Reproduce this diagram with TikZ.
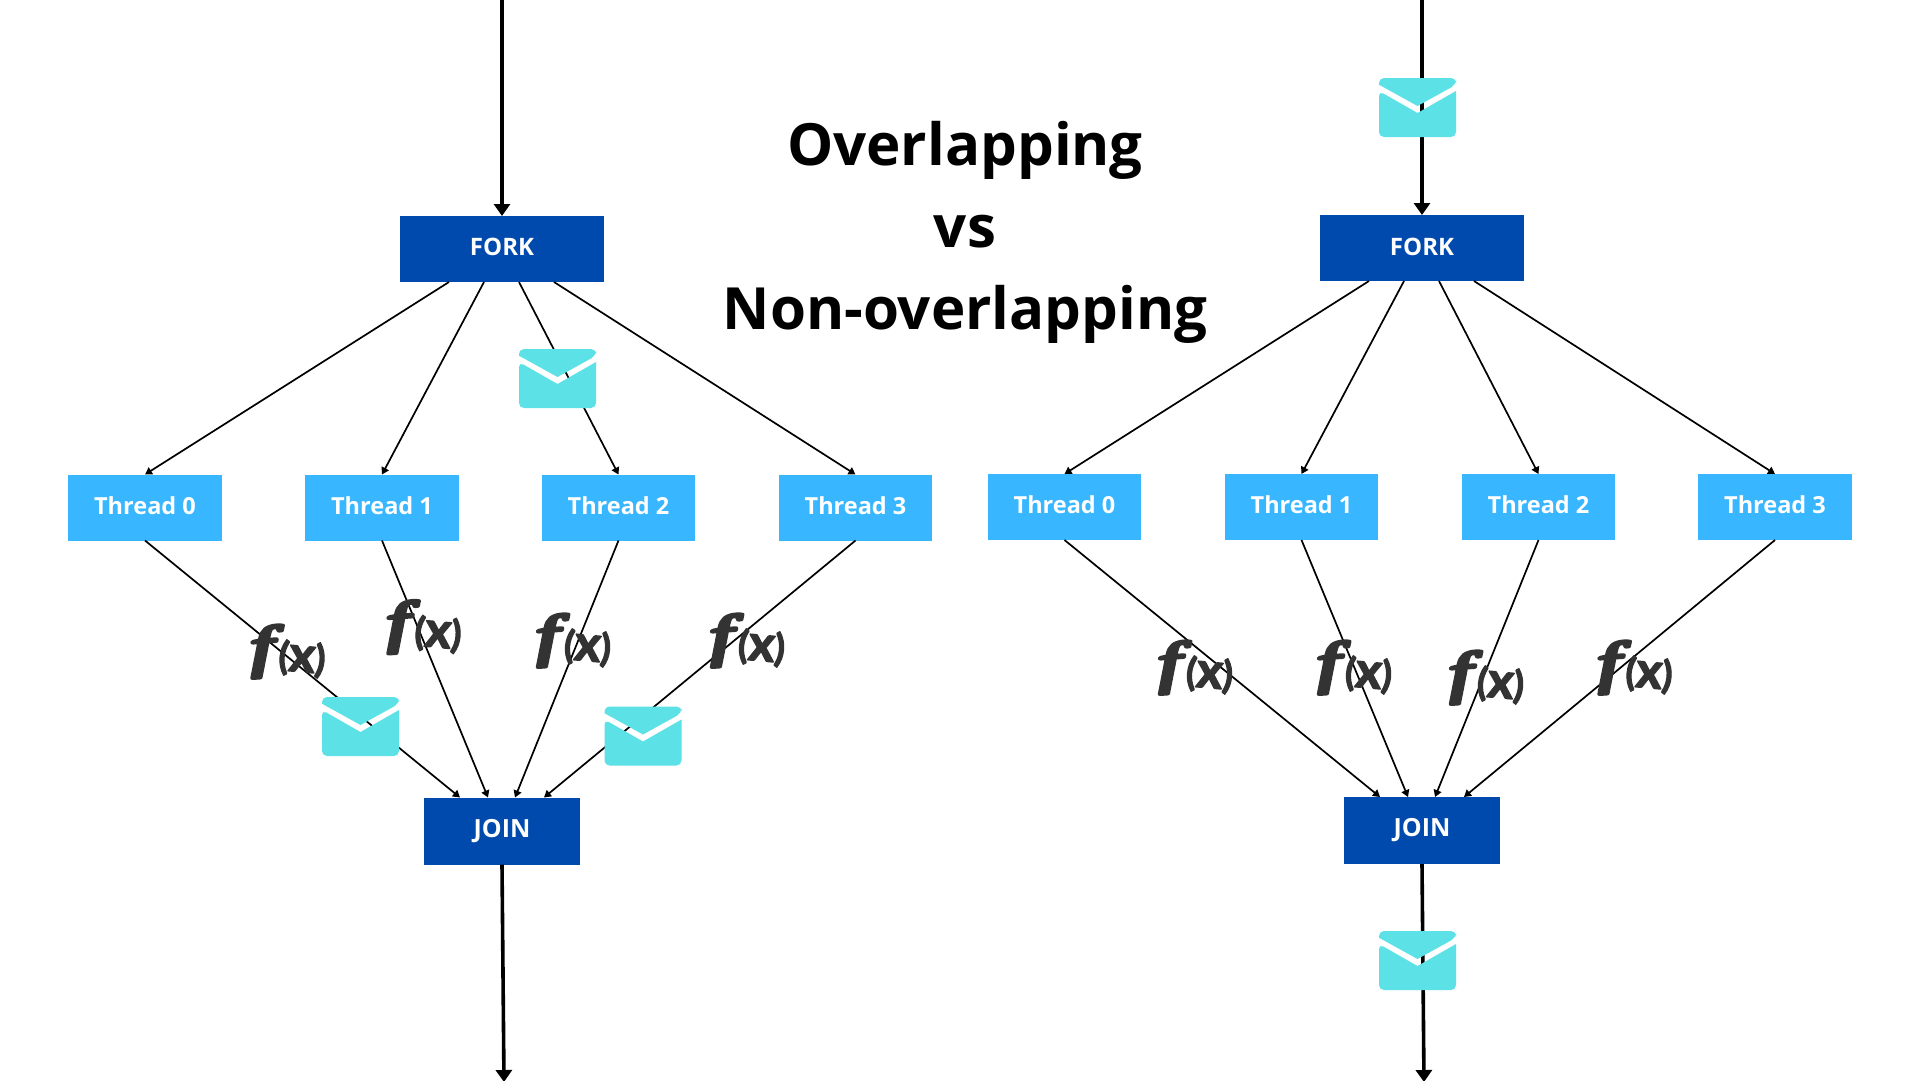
\documentclass[tikz,border=0pt]{standalone}
\usepackage{fontspec}
\setmainfont{Open Sans}
\newfontfamily\fxfont[ItalicFeatures={FakeBold=6}]{Liberation Serif}
\newfontfamily\fxsans[BoldFeatures={FakeBold=3}]{Lato}
\usetikzlibrary{arrows.meta}
\definecolor{forkblue}{HTML}{004AAD}
\definecolor{threadblue}{HTML}{38B6FF}
\definecolor{mailcyan}{HTML}{5CE1E6}
\definecolor{fxgray}{HTML}{333333}
\tikzset{
  x=1pt,y=-1pt,
  forkbox/.style={fill=forkblue,text=white,font=\fontsize{24}{28}\selectfont\bfseries,minimum width=204pt,minimum height=66pt,inner sep=0pt,outer sep=0pt,text height=39.5pt,text depth=26.5pt},
  joinbox/.style={forkbox,minimum width=156pt,minimum height=67pt,font=\fontsize{25}{28}\selectfont\bfseries,text height=39.6pt,text depth=27.4pt},
  threadbox/.style={fill=threadblue,text=white,font=\fontsize{23.5}{28}\selectfont\bfseries,minimum width=153.5pt,minimum height=66pt,inner sep=0pt,outer sep=0pt,text height=39pt,text depth=27pt},
  lower text/.style={text height=40pt,text depth=26pt},
  thin line/.style={draw=black,line width=1.7pt,-{Triangle[length=7pt,width=8pt]}},
  thick line/.style={draw=black,line width=3.6pt,-{Triangle[length=12pt,width=16pt]}},
  fx/.style={text=fxgray,rotate=-5,inner sep=0pt},
  pics/envelope/.style={code={
    \fill[mailcyan,rounded corners=5pt] (0,6.7) -- (0,0) -- (77,0) -- (77,6.7) [sharp corners] -- (38.5,28) -- cycle;
    \fill[mailcyan,rounded corners=5pt] (0,13) [sharp corners] -- (38.5,35) -- (77,13) [rounded corners=5pt] -- (77,59) -- (0,59) -- cycle;
  }}
}
\newcommand{\fxlabel}{\pgfsetroundjoin\pgfsetroundcap\rotatebox{9}{\scalebox{1.55}[1]{\fxfont\itshape\fontsize{56}{56}\selectfont f}}\kern1pt{\fxsans\bfseries\fontsize{38}{38}\selectfont (\raisebox{-1pt}{\fontsize{50}{50}\selectfont x})}}
\begin{document}
\begin{tikzpicture}
\useasboundingbox (0,0) rectangle (1920,1080);
\fill[white] (0,0) rectangle (1920,1080);
% boxes
\node[forkbox] (forkL) at (502,249) {FORK};
\node[threadbox,lower text] (t0L) at (145,507.5) {Thread 0};
\node[threadbox,lower text] (t1L) at (382,507.5) {Thread 1};
\node[threadbox,lower text] (t2L) at (618.5,507.5) {Thread 2};
\node[threadbox,lower text] (t3L) at (855.5,507.5) {Thread 3};
\node[joinbox] (joinL) at (502,831) {JOIN};
\node[forkbox,text height=40.5pt,text depth=25.5pt] (forkR) at (1422,248) {FORK};
\node[threadbox] (t0R) at (1064.5,507) {Thread 0};
\node[threadbox] (t1R) at (1301.5,507) {Thread 1};
\node[threadbox] (t2R) at (1538.5,507) {Thread 2};
\node[threadbox] (t3R) at (1775,507) {Thread 3};
\node[joinbox] (joinR) at (1422,830.5) {JOIN};
\coordinate (inL) at (502,0);
\coordinate (outL) at (504,1082);
\coordinate (inR) at (1422,0);
\coordinate (outR) at (1424,1082);
% connectors
\draw[thick line] (inL) -- (forkL.north);
\draw[thick line] (joinL.south) -- (outL);
\draw[thick line] (inR) -- (forkR.north);
\draw[thick line] (joinR.south) -- (outR);
\foreach \side in {L,R}{
  \draw[thin line] ([xshift=-53pt]fork\side.south) -- (t0\side.north);
  \draw[thin line] ([xshift=-18pt]fork\side.south) -- (t1\side.north);
  \draw[thin line] ([xshift=17pt]fork\side.south) -- (t2\side.north);
  \draw[thin line] ([xshift=52pt]fork\side.south) -- (t3\side.north);
  \draw[thin line] (t0\side.south) -- ([xshift=-42pt]join\side.north);
  \draw[thin line] (t1\side.south) -- ([xshift=-14pt]join\side.north);
  \draw[thin line] (t2\side.south) -- ([xshift=13pt]join\side.north);
  \draw[thin line] (t3\side.south) -- ([xshift=42pt]join\side.north);
}
% envelopes
\pic at (519,349) {envelope};
\pic at (322,697) {envelope};
\pic at (604.5,706.5) {envelope};
\pic at (1379,78) {envelope};
\pic at (1379,931) {envelope};
% f(x)
\node[fx] (fx0) at (286,654) {\fxlabel};
\node[fx] (fx1) at (422,629.5) {\fxlabel};
\node[fx] (fx2) at (571.5,643) {\fxlabel};
\node[fx] (fx3) at (745.5,643) {\fxlabel};
\node[fx] (fx4) at (1193.5,670) {\fxlabel};
\node[fx] (fx5) at (1352.5,670) {\fxlabel};
\node[fx] (fx6) at (1484.5,680) {\fxlabel};
\node[fx] (fx7) at (1633,670) {\fxlabel};
% title
\node[font=\fontsize{58.2}{82}\selectfont\bfseries,align=center,inner sep=0pt] (title) at (965,232) {Overlapping\\vs\\Non-overlapping};
\end{tikzpicture}
\end{document}
